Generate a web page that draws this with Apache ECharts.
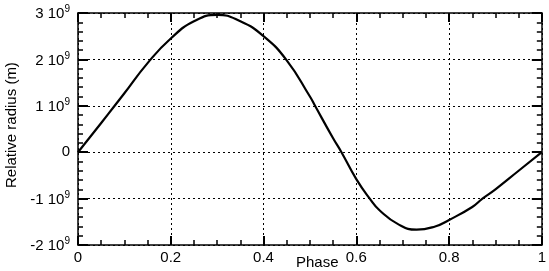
<!DOCTYPE html>
<html>
<head>
<meta charset="utf-8">
<script src="https://cdn.jsdelivr.net/npm/echarts@6/dist/echarts.min.js"></script>
<style>html,body{margin:0;padding:0;background:#fff;}#c{width:549px;height:271px;}</style>
</head>
<body>
<div id="c"></div>
<script>
const phase = [0, 0.05, 0.079, 0.1, 0.15, 0.2, 0.25, 0.3, 0.35, 0.4, 0.45, 0.5, 0.511, 0.55, 0.568, 0.6, 0.629, 0.65, 0.69, 0.73, 0.77, 0.8, 0.85, 0.872, 0.9, 0.95, 1.0];
const radius = [0, 0.63e9, 1.0e9, 1.27e9, 1.92e9, 2.45e9, 2.82e9, 2.96e9, 2.82e9, 2.5e9, 1.98e9, 1.2e9, 1.0e9, 0.3e9, 0, -0.58e9, -1.0e9, -1.25e9, -1.55e9, -1.67e9, -1.6e9, -1.46e9, -1.18e9, -1.0e9, -0.8e9, -0.4e9, 0];
const xTicks = [0, 0.2, 0.4, 0.6, 0.8, 1];
const yTicks = [-2e9, -1e9, 0, 1e9, 2e9, 3e9];

const font = 'Liberation Sans, Arial, sans-serif';
const chart = echarts.init(document.getElementById('c'));
function mkAxis(pos, isX, main) {
  const ax = {
    type: 'value', position: pos,
    min: isX ? 0 : -2e9, max: isX ? 1 : 3e9, interval: isX ? 0.2 : 1e9,
    axisLine: {show: true, onZero: false, lineStyle: {color: '#000', width: 1.5}},
    axisTick: {show: true, inside: true, length: isX ? 9 : 10, lineStyle: {color: '#000', width: 2}},
    minorTick: {show: true, splitNumber: isX ? 4 : 5, length: 5, lineStyle: {color: '#000', width: 1.5}},
    axisLabel: {show: false},
    splitLine: {show: false}
  };
  if (main) {
    ax.splitLine = {show: true, lineStyle: {color: '#000', type: [2, 3], width: 1}};
    if (isX) {
      ax.axisLabel = {show: true, color: '#000', fontFamily: font, fontSize: 15, margin: 5,
        formatter: v => String(Math.round(v * 10) / 10)};
    } else {
      ax.axisLabel = {show: true, color: '#000', fontFamily: font, fontSize: 15, margin: 8,
        formatter: v => v === 0 ? '{b|0}' : '{b|' + Math.round(v / 1e9) + ' 10}{s|9}',
        rich: {
          b: {fontFamily: font, fontSize: 15, color: '#000', verticalAlign: 'bottom'},
          s: {fontFamily: font, fontSize: 10, color: '#000', verticalAlign: 'bottom', padding: [0, 0, 7, 0]}
        }};
    }
  }
  return ax;
}
chart.setOption({
  animation: false,
  title: {text: '', show: false},
  grid: {left: 78, right: 4, top: 13, bottom: 26, containLabel: false},
  xAxis: [mkAxis('bottom', true, true), mkAxis('top', true, false)],
  yAxis: [mkAxis('left', false, true), mkAxis('right', false, false)],
  graphic: [
    {type: 'text', left: 296, top: 255, style: {text: 'Phase', font: '15px ' + font, fill: '#000'}},
    {type: 'text', x: 4, y: 188, rotation: Math.PI / 2,
      style: {text: 'Relative radius (m)', font: '15px ' + font, fill: '#000', verticalAlign: 'top'}}
  ],
  series: [{
    type: 'line', smooth: true, symbol: 'none',
    data: phase.map((p, i) => [p, radius[i]]),
    lineStyle: {color: '#000', width: 2.2}
  }]
});
</script>
</body>
</html>
